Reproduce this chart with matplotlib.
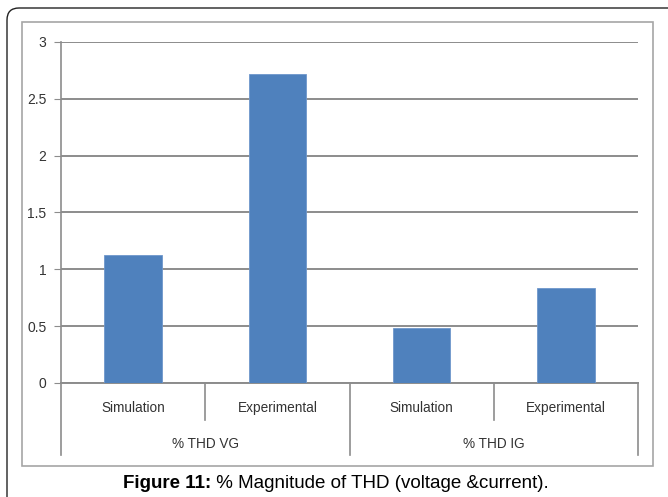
import matplotlib.pyplot as plt
from matplotlib.patches import Rectangle, FancyBboxPatch
from matplotlib.transforms import IdentityTransform

# THD values (%) for grid voltage and grid current
groups = ['% THD VG', '% THD IG']
cases = ['Simulation', 'Experimental', 'Simulation', 'Experimental']
thd = [1.13, 2.72, 0.48, 0.84]
yticks = [0, 0.5, 1, 1.5, 2, 2.5, 3]
ytick_labels = ['0', '0.5', '1', '1.5', '2', '2.5', '3']

W, H = 668, 497
fig = plt.figure(figsize=(W / 100, H / 100), dpi=100)
plt.rcParams['font.family'] = ['Liberation Sans', 'DejaVu Sans']

# outer rounded frame (runs off the right and bottom edges), in pixels
fig.patches.append(FancyBboxPatch((7, -30), 680, H - 8 + 30, boxstyle='round,pad=0,rounding_size=12',
                                  transform=IdentityTransform(), fill=False, ec='#222222', lw=1.0))
# inner chart box
fig.patches.append(Rectangle((22 / W, (H - 466) / H), (653 - 22) / W, (466 - 22) / H,
                             transform=fig.transFigure, fill=False, ec='#a6a6a6', lw=1.2))

ax = fig.add_axes([61 / W, (H - 383) / H, (638 - 61) / W, (383 - 42) / H])
x = list(range(len(thd)))
ax.bar(x, thd, width=0.4, color='#4f81bd', edgecolor='#6f97cc', lw=0.6, zorder=3)

ax.set_xlim(-0.5, 3.5)
ax.set_ylim(0, 3)
ax.set_yticks(yticks)
ax.set_yticklabels(ytick_labels)
ax.grid(axis='y', color='#8c8c8c', lw=1.4, zorder=0)
for s in ['top', 'right']:
    ax.spines[s].set_visible(False)
ax.spines['left'].set_color('#8c8c8c')
ax.spines['bottom'].set_color('#8c8c8c')
ax.spines['left'].set_linewidth(1.2)
ax.spines['bottom'].set_linewidth(1.4)
ax.tick_params(axis='y', length=5, color='#8c8c8c', labelsize=10, labelcolor='#333333', pad=5.5)
ax.tick_params(axis='x', length=0, labelbottom=False)

# two-level category axis
tr = ax.get_xaxis_transform()
ph = 383 - 42
for xd in [0.5, 2.5]:
    ax.plot([xd, xd], [0, -(420 - 383) / ph], transform=tr, clip_on=False, color='#8c8c8c', lw=1.2)
for xd in [-0.5, 1.5, 3.5]:
    ax.plot([xd, xd], [0, -(455 - 383) / ph], transform=tr, clip_on=False, color='#8c8c8c', lw=1.2)
for xi, lab in zip(x, cases):
    ax.text(xi, -(408 - 383) / ph, lab, transform=tr, ha='center', va='center',
            fontsize=9.8, color='#333333')
for gi, g in enumerate(groups):
    ax.text(0.5 + 2 * gi, -(444 - 383) / ph, g, transform=tr, ha='center', va='center',
            fontsize=9.8, color='#333333')

# caption: bold label followed by regular text, centred as a whole
cy = (H - 483) / H
t1 = fig.text(0, cy, 'Figure 11:', fontsize=13.5, fontweight='bold', ha='left', va='center')
t2 = fig.text(0, cy, ' % Magnitude of THD (voltage &current).', fontsize=13.5, ha='left', va='center')
fig.canvas.draw()
w1 = t1.get_window_extent().width
w2 = t2.get_window_extent().width
x0 = 336 - (w1 + w2) / 2
t1.set_x(x0 / W)
t2.set_x((x0 + w1) / W)

fig.savefig('out.png', dpi=100)
